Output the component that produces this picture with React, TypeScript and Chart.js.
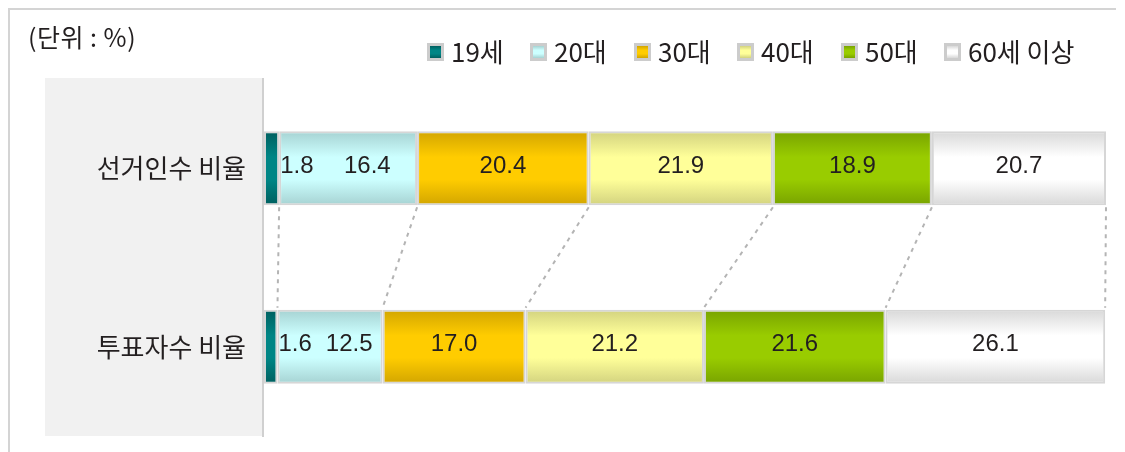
import React, { useEffect, useRef } from "react";
import { Chart, registerables } from "chart.js";

Chart.register(...registerables);

// ---- data ----
const categories = ["선거인수 비율", "투표자수 비율"];
const ageGroups = ["19세", "20대", "30대", "40대", "50대", "60세 이상"];
const age19 = [1.8, 1.6];
const age20s = [16.4, 12.5];
const age30s = [20.4, 17.0];
const age40s = [21.9, 21.2];
const age50s = [18.9, 21.6];
const age60plus = [20.7, 26.1];
const seriesValues = [age19, age20s, age30s, age40s, age50s, age60plus];
const unitLabel = "(단위 : %)";

// ---- styles ----
const palette = [
  { light: "#008585", dark: "#005f5f" },
  { light: "#ccffff", dark: "#a6d2d2" },
  { light: "#ffcc00", dark: "#d2a500" },
  { light: "#ffff99", dark: "#d2d27f" },
  { light: "#99cc00", dark: "#78a300" },
  { light: "#ffffff", dark: "#d8d8d8" },
];
const KR = "'Noto Sans CJK KR', 'Noto Sans', sans-serif";
const NUM = "'Liberation Sans', Arial, sans-serif";
const TEXT = "#231f20";
const BAR_PCT = 0.415;

function makeGradient(ctx: CanvasRenderingContext2D, top: number, bottom: number, c: { light: string; dark: string }) {
  const g = ctx.createLinearGradient(0, top, 0, bottom);
  g.addColorStop(0, c.dark);
  g.addColorStop(0.35, c.light);
  g.addColorStop(0.65, c.light);
  g.addColorStop(1, c.dark);
  return g;
}

const decorPlugin = {
  id: "decor",
  beforeDraw(chart: any) {
    const { ctx, chartArea } = chart;
    ctx.save();
    ctx.fillStyle = "#ffffff";
    ctx.fillRect(0, 0, chart.width, chart.height);
    // outer frame
    ctx.strokeStyle = "#d4d4d4";
    ctx.lineWidth = 2;
    ctx.beginPath();
    ctx.moveTo(9, chart.height);
    ctx.lineTo(9, 9);
    ctx.lineTo(1116, 9);
    ctx.stroke();
    // category panel
    ctx.fillStyle = "#f1f1f1";
    ctx.fillRect(45, chartArea.top - 1, chartArea.left - 1 - 45, chartArea.bottom - chartArea.top + 1);
    // axis line
    ctx.strokeStyle = "#d0d0d0";
    ctx.lineWidth = 2;
    ctx.beginPath();
    ctx.moveTo(chartArea.left - 1, chartArea.top - 1);
    ctx.lineTo(chartArea.left - 1, chartArea.bottom + 1);
    ctx.stroke();
    // unit label
    ctx.fillStyle = TEXT;
    ctx.font = `25px ${KR}`;
    ctx.textAlign = "left";
    ctx.textBaseline = "middle";
    (ctx as any).letterSpacing = "0.5px";
    ctx.fillText(unitLabel, 28, 37);
    // legend
    ctx.font = `26px ${KR}`;
    (ctx as any).letterSpacing = "0px";
    ageGroups.forEach((label, i) => {
      const bx = Math.round(427 + i * 103.4), by = 43, bw = 17, bh = 18;
      ctx.fillStyle = "#cccccc";
      ctx.fillRect(bx, by, bw, bh);
      ctx.fillStyle = makeGradient(ctx, by + 3, by + bh - 3, palette[i]);
      ctx.fillRect(bx + 3, by + 3, bw - 6, bh - 6);
      ctx.fillStyle = TEXT;
      ctx.fillText(label, bx + 24, 52);
    });
    ctx.restore();
  },
  afterDatasetsDraw(chart: any) {
    const { ctx } = chart;
    ctx.save();
    // connectors
    ctx.strokeStyle = "#b4b4b4";
    ctx.lineWidth = 2;
    ctx.setLineDash([4, 5]);
    chart.data.datasets.forEach((_: any, di: number) => {
      const meta = chart.getDatasetMeta(di);
      const a = meta.data[0];
      const b = meta.data[1];
      if (!a || !b) return;
      ctx.beginPath();
      ctx.moveTo(a.x, a.y + a.height / 2 + 2);
      ctx.lineTo(b.x, b.y - b.height / 2 - 2);
      ctx.stroke();
    });
    ctx.setLineDash([]);
    // value labels
    ctx.font = `24px ${NUM}`;
    ctx.fillStyle = TEXT;
    ctx.textBaseline = "middle";
    for (let row = 0; row < categories.length; row++) {
      let firstLabelEnd = 0;
      chart.data.datasets.forEach((ds: any, di: number) => {
        const el = chart.getDatasetMeta(di).data[row];
        const txt = ds.data[row].toFixed(1);
        const y = el.y - 2;
        if (di === 0) {
          ctx.textAlign = "left";
          ctx.fillText(txt, el.x + 1, y);
          firstLabelEnd = el.x + 1 + ctx.measureText(txt).width;
        } else if (di === 1) {
          ctx.textAlign = "center";
          ctx.fillText(txt, (firstLabelEnd + el.x) / 2 + 2, y);
        } else {
          ctx.textAlign = "center";
          ctx.fillText(txt, (el.x + el.base) / 2, y);
        }
      });
    }
    ctx.restore();
  },
};

export default function App() {
  const ref = useRef<HTMLCanvasElement | null>(null);
  useEffect(() => {
    if (!ref.current) return;
    const sums = categories.map((_, r) => seriesValues.reduce((s, arr) => s + arr[r], 0));
    const xMax = Math.max(...sums);
    const chart = new Chart(ref.current, {
      type: "bar",
      data: {
        labels: categories,
        datasets: ageGroups.map((label, i) => ({
          label,
          data: seriesValues[i],
          backgroundColor: (c: any) => {
            const ch = c.chart;
            const ys = ch.scales && ch.scales.y;
            if (!ys || !ch.chartArea) return palette[i].light;
            const cy = ys.getPixelForValue(c.dataIndex);
            const band = ch.chartArea.height / categories.length;
            const half = (band * BAR_PCT) / 2;
            return makeGradient(ch.ctx, cy - half, cy + half, palette[i]);
          },
          borderColor: "#d6d6d6",
          borderWidth: 2,
          borderSkipped: false,
          barPercentage: BAR_PCT,
          categoryPercentage: 1,
        })),
      },
      options: {
        responsive: false,
        animation: false,
        indexAxis: "y",
        layout: { padding: { left: 0, right: 19, top: 79, bottom: 16 } },
        plugins: { legend: { display: false }, tooltip: { enabled: false }, title: { display: false } },
        scales: {
          x: { stacked: true, display: false, min: 0, max: xMax },
          y: {
            stacked: true,
            grid: { display: false, drawTicks: false },
            border: { display: false },
            ticks: { font: { family: KR, size: 26 }, color: TEXT, padding: 18 },
            afterFit: (s: any) => {
              s.width = 264;
              s.paddingTop = 0;
              s.paddingBottom = 0;
            },
          },
        },
      },
      plugins: [decorPlugin],
    } as any);
    return () => chart.destroy();
  }, []);
  return (
    <div style={{ position: "absolute", left: 0, top: 0, width: 1125, height: 452 }}>
      <canvas ref={ref} width={1125} height={452} style={{ width: 1125, height: 452, display: "block" }} />
    </div>
  );
}
